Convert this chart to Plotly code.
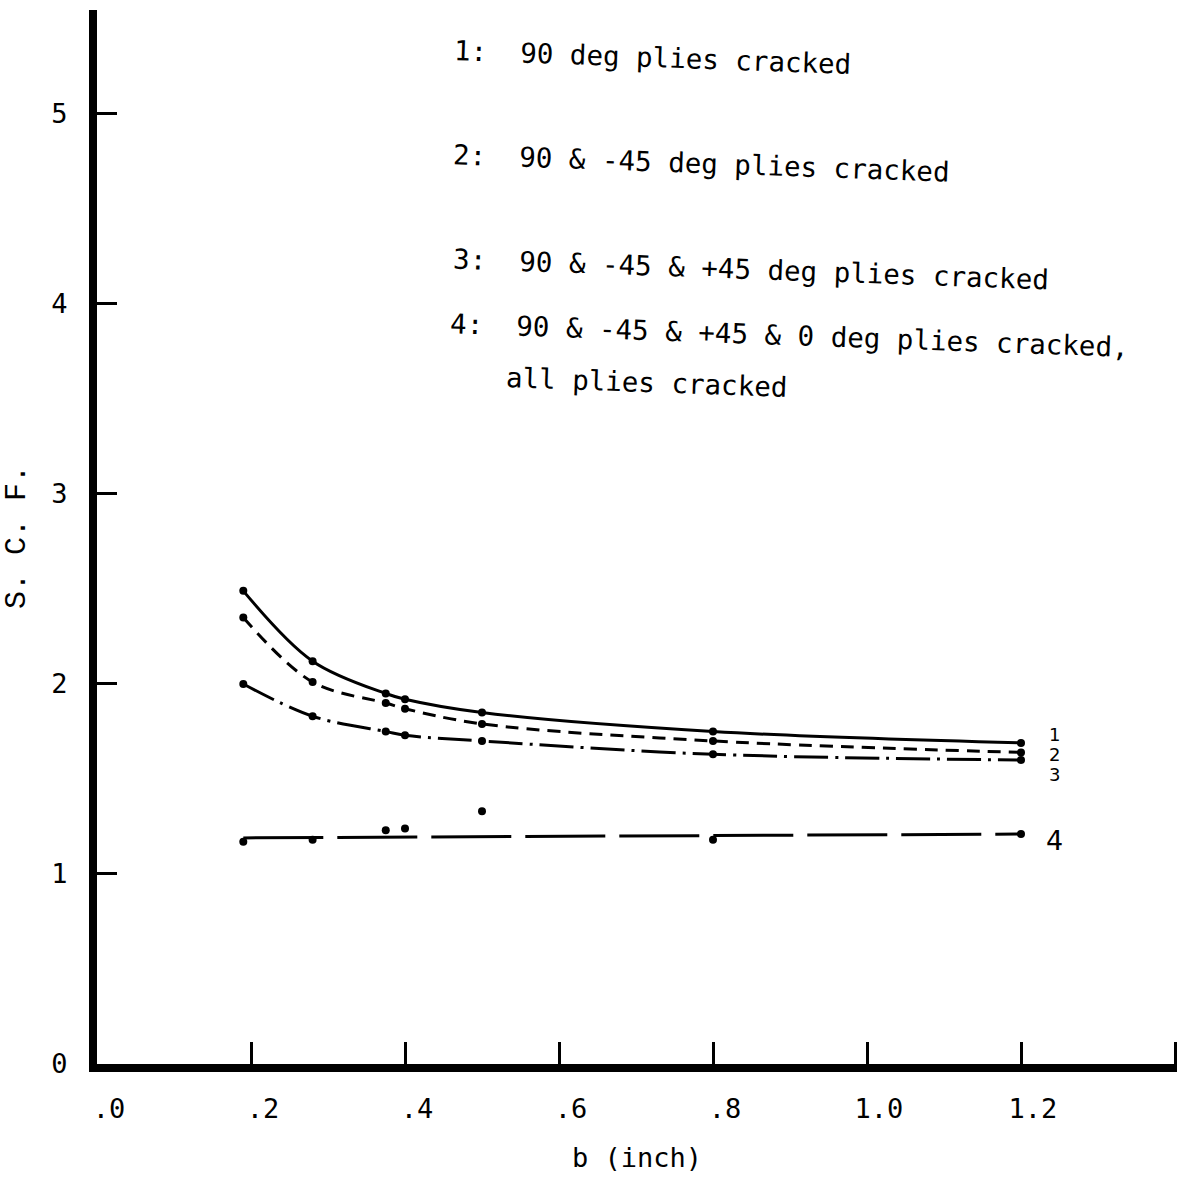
import plotly.graph_objects as go

# Crack width b (inch) at which each stress concentration factor was computed
b = [0.19, 0.28, 0.375, 0.4, 0.5, 0.8, 1.2]

# S.C.F. for each cracking state
scf_1 = [2.49, 2.12, 1.95, 1.92, 1.85, 1.75, 1.69]   # 90 deg plies cracked
scf_2 = [2.35, 2.01, 1.90, 1.87, 1.79, 1.70, 1.64]   # 90 & -45
scf_3 = [2.00, 1.83, 1.75, 1.73, 1.70, 1.63, 1.60]   # 90 & -45 & +45
scf_4 = [1.17, 1.18, 1.23, 1.24, 1.33, 1.18, 1.21]   # all plies cracked

# Straight trend line for case 4
fit_4_b = [0.19, 1.2]
fit_4_scf = [1.19, 1.21]

x_tickvals = [0.0, 0.2, 0.4, 0.6, 0.8, 1.0, 1.2, 1.4]
x_ticktext = [".0", ".2", ".4", ".6", ".8", "1.0", "1.2", ""]
y_tickvals = [0, 1, 2, 3, 4, 5]
y_ticktext = ["0", "1", "2", "3", "4", "5"]

legend_lines = [
    "1:  90 deg plies cracked",
    "2:  90 & -45 deg plies cracked",
    "3:  90 & -45 & +45 deg plies cracked",
    "4:  90 & -45 & +45 & 0 deg plies cracked,",
    "all plies cracked",
]
legend_pos = [(0.514, 0.955), (0.560, 0.855), (0.606, 0.754), (0.641, 0.692), (0.509, 0.647)]

INK = "black"
MONO = "DejaVu Sans Mono"

fig = go.Figure()

curve_styles = [
    (scf_1, "solid"),
    (scf_2, "13px,8px"),
    (scf_3, "34px,7px,3px,7px"),
]
for vals, dash in curve_styles:
    fig.add_trace(go.Scatter(
        x=b, y=vals, mode="lines+markers",
        line=dict(color=INK, width=3, dash=dash, shape="spline", smoothing=1.0),
        marker=dict(color=INK, size=8),
        showlegend=False, hoverinfo="x+y",
    ))

fig.add_trace(go.Scatter(
    x=fit_4_b, y=fit_4_scf, mode="lines",
    line=dict(color=INK, width=3, dash="80px,14px"),
    showlegend=False, hoverinfo="skip",
))
fig.add_trace(go.Scatter(
    x=b, y=scf_4, mode="markers",
    marker=dict(color=INK, size=8),
    showlegend=False, hoverinfo="x+y",
))

# Curve numbers at the right-hand ends
end_labels = [("1", scf_1[-1], 8, 18), ("2", scf_2[-1], -2, 18),
              ("3", scf_3[-1], -15, 18), ("4", fit_4_scf[-1], -6, 27)]
for txt, yv, ys, fs in end_labels:
    fig.add_annotation(x=b[-1], y=yv, xref="x", yref="y", text=txt,
                       showarrow=False, xshift=33, yshift=ys,
                       font=dict(family="DejaVu Sans", size=fs, color=INK))

for txt, (px, py) in zip(legend_lines, legend_pos):
    fig.add_annotation(x=px, y=py, xref="paper", yref="paper", text=txt,
                       showarrow=False, xanchor="center", yanchor="middle",
                       textangle=2,
                       font=dict(family=MONO, size=27.5, color=INK))

fig.update_layout(
    width=1180, height=1185,
    margin=dict(l=97, r=3, t=10, b=121),
    paper_bgcolor="white", plot_bgcolor="white",
    showlegend=False,
)
fig.update_xaxes(
    range=[0, 1.4026], showgrid=False, zeroline=False,
    showline=True, linecolor=INK, linewidth=8,
    tickmode="array", tickvals=x_tickvals, ticktext=x_ticktext,
    ticks="inside", ticklen=22, tickwidth=3, tickcolor=INK,
    ticklabelstandoff=14, ticklabelshift=12,
    tickfont=dict(family=MONO, size=27, color=INK),
    title=dict(text="b (inch)", font=dict(family=MONO, size=27, color=INK), standoff=28),
)
fig.update_yaxes(
    range=[0, 5.547], showgrid=False, zeroline=False,
    showline=True, linecolor=INK, linewidth=8,
    tickmode="array", tickvals=y_tickvals, ticktext=y_ticktext,
    ticks="inside", ticklen=20, tickwidth=3, tickcolor=INK,
    ticklabelstandoff=16,
    tickfont=dict(family=MONO, size=27, color=INK),
    title=dict(text="S. C. F.", font=dict(family="Liberation Mono", size=30, color=INK), standoff=22),
)

fig.write_html("out.html")
